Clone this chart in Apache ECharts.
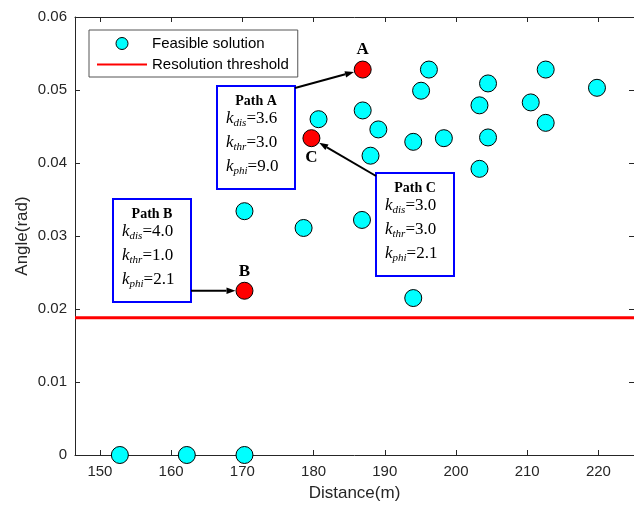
<!DOCTYPE html>
<html>
<head>
<meta charset="utf-8">
<script src="https://cdn.jsdelivr.net/npm/echarts@6/dist/echarts.min.js"></script>
<style>html,body{margin:0;padding:0;background:#fff;}#c{width:634px;height:508px;}</style>
</head>
<body>
<div id="c"></div>
<script>
// Feasible solutions (Distance m, Angle rad)
const feasibleDistance = [152.8,162.2,170.3,170.3,178.6,180.7,186.9,189.1,188.0,186.8,194.0,194.0,195.1,196.2,198.3,203.3,203.3,204.5,204.5,210.5,212.6,212.6,219.8];
const feasibleAngle    = [0,0,0,0.0334,0.0311,0.0460,0.0472,0.0446,0.0410,0.0322,0.0215,0.0429,0.0499,0.0528,0.0434,0.0479,0.0392,0.0509,0.0435,0.0483,0.0455,0.0528,0.0503];
// Selected paths
const pathNames    = ['A','B','C'];
const pathDistance = [186.9,170.3,179.7];
const pathAngle    = [0.0528,0.0225,0.0434];
const pathKdis = ['3.6','4.0','3.0'];
const pathKthr = ['3.0','1.0','3.0'];
const pathKphi = ['9.0','2.1','2.1'];
// Resolution threshold
const thresholdAngle = 0.0188;
const xRange = [146.5, 225];
const yTicks = [0, 0.01, 0.02, 0.03, 0.04, 0.05, 0.06];

const axisColor = '#262626';
const sans = 'Liberation Sans, Arial, sans-serif';
const serif = 'Liberation Serif, Times New Roman, serif';

const chart = echarts.init(document.getElementById('c'));

const feasibleData = feasibleDistance.map((d,i)=>[d, feasibleAngle[i]]);
const pathData = pathDistance.map((d,i)=>({
  value:[d, pathAngle[i]],
  label:{position: pathNames[i]==='C' ? 'bottom' : 'top'}
}));

const axisCommon = {
  axisLine:{show:true, onZero:false, lineStyle:{color:axisColor, width:1}},
  axisTick:{show:true, inside:true, length:5, lineStyle:{color:axisColor}},
  splitLine:{show:false}
};

chart.setOption({
  animation:false,
  backgroundColor:'#fff',
  grid:{left:75, top:17, width:560, height:438},
  legend:{
    orient:'vertical', left:89, top:30,
    borderColor:'#555', borderWidth:1, borderRadius:0,
    padding:[6,9,5,7], itemWidth:50, itemHeight:12, itemGap:6,
    textStyle:{fontSize:15, lineHeight:12, fontFamily:sans, color:'#000'},
    data:[
      {name:'Feasible solution', icon:'circle', itemStyle:{borderWidth:1, borderColor:'#000'}},
      {name:'Resolution threshold', itemStyle:{color:'rgba(0,0,0,0)', borderWidth:0, opacity:0}}
    ]
  },
  xAxis:[
    Object.assign({type:'value', min:xRange[0], max:xRange[1], splitNumber:8,
      name:'Distance(m)', nameLocation:'middle', nameGap:30, nameMoveOverlap:false,
      nameTextStyle:{fontSize:17, fontFamily:sans, color:axisColor},
      axisLabel:{fontSize:15, fontFamily:sans, color:axisColor, margin:9, showMinLabel:false, showMaxLabel:false}
    }, axisCommon),
    Object.assign({type:'value', position:'top', min:xRange[0], max:xRange[1], splitNumber:8,
      axisLabel:{show:false}}, axisCommon)
  ],
  yAxis:[
    Object.assign({type:'value', min:yTicks[0], max:yTicks[yTicks.length-1], interval:0.01,
      name:'Angle(rad)', nameLocation:'middle', nameGap:44, nameMoveOverlap:false,
      nameTextStyle:{fontSize:17, fontFamily:sans, color:axisColor},
      axisLabel:{fontSize:15, fontFamily:sans, color:axisColor, margin:8,
        formatter:v=>String(+v.toFixed(2))}
    }, axisCommon),
    Object.assign({type:'value', position:'right', min:yTicks[0], max:yTicks[yTicks.length-1], interval:0.01,
      axisLabel:{show:false}}, axisCommon)
  ],
  series:[
    {
      name:'Resolution threshold', type:'line', symbol:'none',
      data:[[xRange[0], thresholdAngle],[xRange[1], thresholdAngle]],
      lineStyle:{color:'#ff0000', width:3}, itemStyle:{color:'#ff0000'}, z:1
    },
    {
      name:'Feasible solution', type:'scatter', symbolSize:17,
      data:feasibleData,
      itemStyle:{color:'#00ffff', borderColor:'#000', borderWidth:1, opacity:1}, z:3
    },
    {
      name:'Selected path', type:'scatter', symbolSize:17,
      data:pathData,
      itemStyle:{color:'#ff0000', borderColor:'#000', borderWidth:1, opacity:1},
      label:{show:true, formatter:p=>pathNames[p.dataIndex], distance:2,
        fontFamily:serif, fontWeight:'bold', fontSize:17, color:'#000'}, z:4
    }
  ]
});

// Annotation boxes
const boxes = [
  {name:'A', x:217, y:86, w:78, h:103},
  {name:'B', x:113, y:199, w:78, h:103},
  {name:'C', x:376, y:173, w:78, h:103}
];
const rich = {
  k:{fontFamily:serif, fontStyle:'italic', fontSize:17, color:'#000', lineHeight:20},
  s:{fontFamily:serif, fontStyle:'italic', fontSize:11, color:'#000', lineHeight:20, padding:[9,0,0,0]},
  v:{fontFamily:serif, fontSize:17, color:'#000', lineHeight:20}
};
const graphics = [];
boxes.forEach((b,i)=>{
  graphics.push({type:'rect', shape:{x:b.x, y:b.y, width:b.w, height:b.h},
    style:{fill:'#fff', stroke:'#0000ff', lineWidth:2}, z:10});
  graphics.push({type:'text', x:b.x+b.w/2, y:b.y+15, z:11,
    style:{text:'Path '+b.name, font:'bold 14px '+serif, fill:'#000', align:'center', verticalAlign:'middle'}});
  const lines = [['dis',pathKdis[i]],['thr',pathKthr[i]],['phi',pathKphi[i]]];
  lines.forEach((ln,j)=>{
    graphics.push({type:'text', x:b.x+9, y:b.y+33+j*24, z:11,
      style:{text:'{k|k}{s|'+ln[0]+'}{v|='+ln[1]+'}', rich:rich, align:'left', verticalAlign:'middle'}});
  });
});

// Arrows from boxes to the selected path points
function arrow(from, toCenter, r){
  const dx = toCenter[0]-from[0], dy = toCenter[1]-from[1];
  const L = Math.hypot(dx,dy);
  const ux = dx/L, uy = dy/L;
  const tip = [toCenter[0]-ux*r, toCenter[1]-uy*r];
  const hl = 9, hw = 3.2;
  const base = [tip[0]-ux*hl, tip[1]-uy*hl];
  graphics.push({type:'line', shape:{x1:from[0], y1:from[1], x2:base[0], y2:base[1]},
    style:{stroke:'#000', lineWidth:2}, z:12});
  graphics.push({type:'polygon', shape:{points:[tip,[base[0]-uy*hw, base[1]+ux*hw],[base[0]+uy*hw, base[1]-ux*hw]]},
    style:{fill:'#000'}, z:12});
}
const pA = chart.convertToPixel({gridIndex:0}, [pathDistance[0], pathAngle[0]]);
const pB = chart.convertToPixel({gridIndex:0}, [pathDistance[1], pathAngle[1]]);
const pC = chart.convertToPixel({gridIndex:0}, [pathDistance[2], pathAngle[2]]);
arrow([295, 88], pA, 9);
arrow([191, pB[1]], pB, 9);
arrow([376, 176], pC, 9);

chart.setOption({graphic:graphics});
</script>
</body>
</html>
